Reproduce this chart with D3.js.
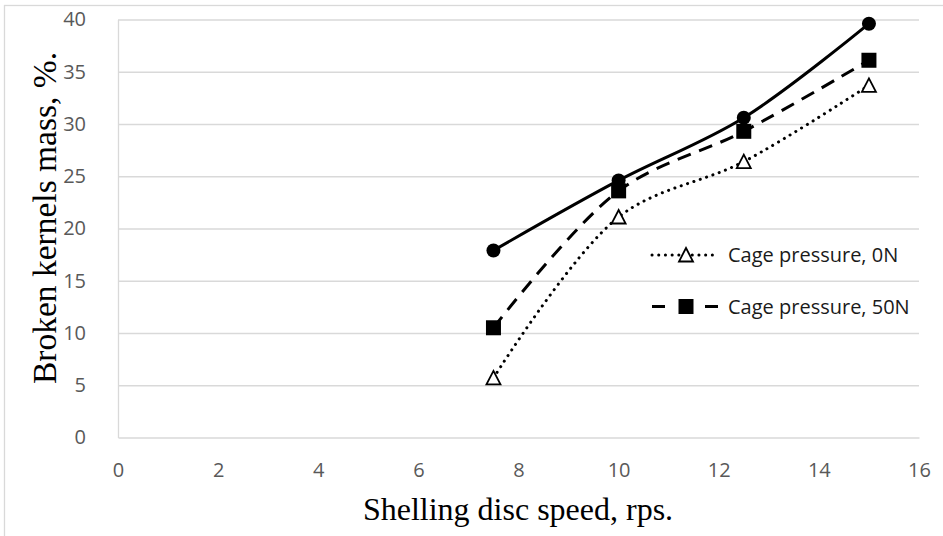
<!DOCTYPE html>
<html>
<head>
<meta charset="utf-8">
<script src="https://cdn.jsdelivr.net/npm/d3@7"></script>
<style>
  body { margin: 0; background: #fff; }
  .tick text { font-family: 'Open Sans', sans-serif; font-size: 20px; fill: #595959; }
  .axis-title { font-family: 'Liberation Serif', 'Times New Roman', serif; font-size: 32px; fill: #000; }
  .legend text { font-family: 'Open Sans', sans-serif; font-size: 20px; fill: #1a1a1a; }
</style>
</head>
<body>
<div class="chart"></div>
<script>
// data
const speeds = [7.5, 10, 12.5, 15]
const noPressure = [5.7, 21.1, 26.4, 33.7]
const pressure50 = [10.5, 23.6, 29.3, 36.1]
const pressureTop = [17.9, 24.6, 30.6, 39.6]
const xTicks = [0, 2, 4, 6, 8, 10, 12, 14, 16]
const yTicks = [0, 5, 10, 15, 20, 25, 30, 35, 40]
const legendLabels = ['Cage pressure, 0N', 'Cage pressure, 50N']

const width = 943
const height = 536

const svg = d3
  .select('.chart')
  .append('svg')
  .attr('width', width)
  .attr('height', height)

// outer chart frame (right/bottom edges fall outside the crop)
svg
  .append('rect')
  .attr('x', 4.5)
  .attr('y', 5.5)
  .attr('width', width + 10)
  .attr('height', height + 10)
  .style('fill', 'none')
  .style('stroke', '#d9d9d9')
  .style('stroke-width', 1.3)

let x = d3.scaleLinear().domain([0, 16]).range([118, 919])
let y = d3.scaleLinear().domain([0, 40]).range([437.5, 19.5])

// grid
svg
  .append('g')
  .attr('class', 'y-grid')
  .attr('transform', `translate(${x(0)},0)`)
  .call(d3.axisLeft(y).tickValues(yTicks.slice(1)).tickSize(-(x(16) - x(0))).tickFormat(''))
  .call((g) => g.select('.domain').remove())
  .call((g) => g.selectAll('line').style('stroke', '#d9d9d9').style('stroke-width', 1.3))

// y axis
svg
  .append('g')
  .attr('class', 'y-axis')
  .attr('transform', `translate(${x(0)},0)`)
  .call(d3.axisLeft(y).tickValues(yTicks).tickSize(0).tickPadding(32))
  .call((g) => g.select('.domain').style('stroke', '#d9d9d9').style('stroke-width', 1.3))

// x axis
svg
  .append('g')
  .attr('class', 'x-axis')
  .attr('transform', `translate(0,${y(0)})`)
  .call(d3.axisBottom(x).tickValues(xTicks).tickSize(0).tickPadding(25))
  .call((g) => g.select('.domain').style('stroke', '#d9d9d9').style('stroke-width', 1.3))

svg
  .append('text')
  .attr('class', 'axis-title')
  .attr('x', 518)
  .attr('y', 520)
  .attr('text-anchor', 'middle')
  .text('Shelling disc speed, rps.')

svg
  .append('text')
  .attr('class', 'axis-title')
  .attr('transform', 'translate(56,218) rotate(-90)')
  .attr('text-anchor', 'middle')
  .style('font-size', '33.5px')
  .text('Broken kernels mass, %.')

const line = d3
  .line()
  .x((d) => x(d[0]))
  .y((d) => y(d[1]))
  .curve(d3.curveCatmullRom.alpha(0.5))

const series = [
  { values: noPressure, dash: '0.1 6.6', cap: 'round', marker: 'triangle' },
  { values: pressure50, dash: '14 9', cap: 'butt', marker: 'square' },
  { values: pressureTop, dash: null, cap: 'butt', marker: 'circle' },
]

function drawMarker(g, type, cx, cy) {
  if (type === 'circle') {
    g.append('circle').attr('cx', cx).attr('cy', cy).attr('r', 7).style('fill', '#000')
  } else if (type === 'square') {
    g.append('rect')
      .attr('x', cx - 7.5)
      .attr('y', cy - 7.5)
      .attr('width', 15)
      .attr('height', 15)
      .style('fill', '#000')
  } else {
    g.append('path')
      .attr('d', `M${cx},${cy - 7}L${cx + 7},${cy + 6.5}L${cx - 7},${cy + 6.5}Z`)
      .style('fill', '#fff')
      .style('stroke', '#000')
      .style('stroke-width', 1.8)
  }
}

series.forEach((s) => {
  let pts = speeds.map((v, i) => [v, s.values[i]])
  svg
    .append('path')
    .attr('d', line(pts))
    .style('fill', 'none')
    .style('stroke', '#000')
    .style('stroke-width', 3)
    .style('stroke-linecap', s.cap)
    .style('stroke-dasharray', s.dash)
  let mg = svg.append('g')
  pts.forEach((p) => drawMarker(mg, s.marker, x(p[0]), y(p[1])))
})

// legend
const legend = svg.append('g').attr('class', 'legend')
legendLabels.forEach((label, i) => {
  let s = series[i]
  let ly = 255 + i * 51.5
  legend
    .append('line')
    .attr('x1', 652)
    .attr('x2', 718)
    .attr('y1', ly)
    .attr('y2', ly)
    .style('stroke', '#000')
    .style('stroke-width', 3)
    .style('stroke-linecap', s.cap)
    .style('stroke-dasharray', i === 0 ? '0.1 6.6' : '13 40')
  drawMarker(legend, s.marker, 686, ly)
  legend
    .append('text')
    .attr('x', 728)
    .attr('y', ly)
    .attr('dy', '0.35em')
    .text(label)
})
</script>
</body>
</html>
